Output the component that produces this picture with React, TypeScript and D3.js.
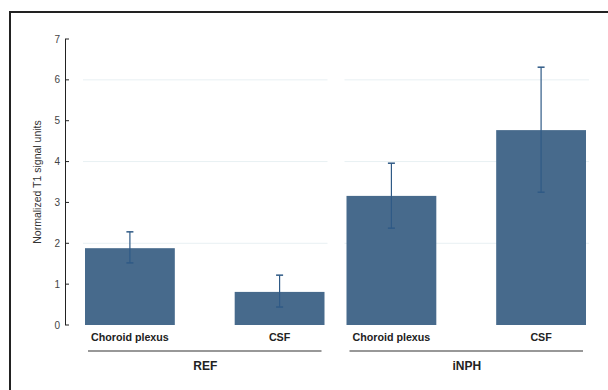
import React from 'react';
import * as d3 from 'd3';

const groups = ['REF', 'iNPH'];
const categories = ['Choroid plexus', 'CSF'];
// values per group, in category order
const means = [
  [1.88, 0.81],
  [3.16, 4.77],
];
const lows = [
  [1.52, 0.44],
  [2.37, 3.25],
];
const highs = [
  [2.28, 1.22],
  [3.96, 6.31],
];
const yTicks = [0, 1, 2, 3, 4, 5, 6, 7];
const gridTicks = [2, 4, 6];

const W = 608;
const H = 390;
const font = 'Liberation Sans, Arial, sans-serif';

const App = () => {
  const y = d3.scaleLinear().domain([0, 7]).range([325, 39]);
  const outer = d3.scaleBand().domain(groups).range([83, 589]).paddingInner(0.065);
  const bw = outer.bandwidth();
  const inner = d3.scaleBand().domain(categories).range([2, bw - 3]).paddingInner(0.4);

  return (
    <svg width={W} height={H} style={{ position: 'absolute', left: 0, top: 0, background: '#fff' }}>
      <rect x={10} y={12} width={700} height={500} fill="none" stroke="#222" strokeWidth={2} />
      {/* gridlines per panel */}
      {groups.map((g) =>
        gridTicks.map((t) => (
          <line key={g + t} x1={outer(g)} x2={outer(g)! + bw} y1={y(t)} y2={y(t)} stroke="#e8f0f3" strokeWidth={1} />
        ))
      )}
      {/* y axis */}
      <line x1={65.5} x2={65.5} y1={y(7)} y2={y(0)} stroke="#222" strokeWidth={1} />
      {yTicks.map((t) => (
        <g key={t}>
          <line x1={65} x2={69} y1={y(t)} y2={y(t)} stroke="#222" />
          <text x={60} y={y(t)} dy="0.35em" textAnchor="end" fontSize={10} fontFamily={font} fill="#444">{t}</text>
        </g>
      ))}
      <text transform={`translate(41,${(y(0) + y(7)) / 2}) rotate(-90)`} textAnchor="middle" fontSize={10.5} fontFamily={font} fill="#333">
        Normalized T1 signal units
      </text>
      {groups.map((g, gi) => {
        const gx = outer(g)!;
        return (
          <g key={g}>
            {categories.map((c, ci) => {
              const x0 = gx + inner(c)!;
              const cx = x0 + inner.bandwidth() / 2;
              return (
                <g key={c}>
                  <rect x={x0} y={y(means[gi][ci])} width={inner.bandwidth()} height={y(0) - y(means[gi][ci])} fill="#476a8c" />
                  <line x1={cx} x2={cx} y1={y(highs[gi][ci])} y2={y(lows[gi][ci])} stroke="#2f5a86" strokeWidth={1.2} />
                  <line x1={cx - 3.5} x2={cx + 3.5} y1={y(highs[gi][ci])} y2={y(highs[gi][ci])} stroke="#2f5a86" strokeWidth={1.5} />
                  <line x1={cx - 3.5} x2={cx + 3.5} y1={y(lows[gi][ci])} y2={y(lows[gi][ci])} stroke="#2f5a86" strokeWidth={1.5} />
                  <text x={cx} y={341} textAnchor="middle" fontSize={10.7} fontWeight="bold" fontFamily={font} fill="#222">{c}</text>
                </g>
              );
            })}
            <line x1={gx + 5} x2={gx + bw - 6} y1={351} y2={351} stroke="#333" strokeWidth={1.2} />
            <text x={gx + bw / 2} y={370} textAnchor="middle" fontSize={12} fontWeight="bold" fontFamily={font} fill="#222">{g}</text>
          </g>
        );
      })}
    </svg>
  );
};

export default App;
